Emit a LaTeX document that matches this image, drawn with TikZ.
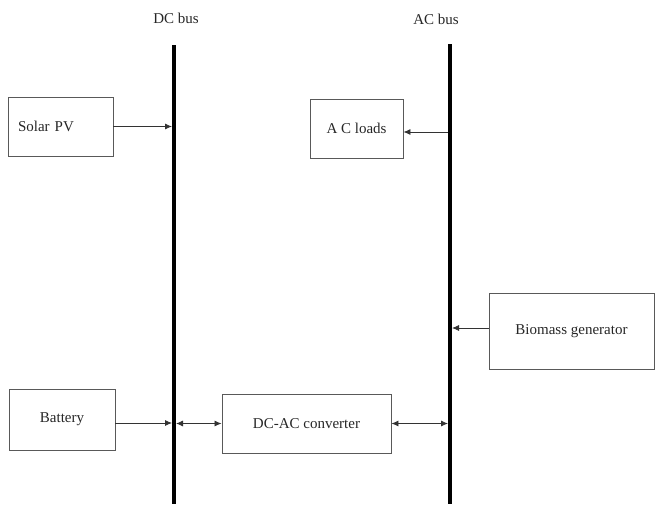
\documentclass[tikz,border=0pt]{standalone}
\usepackage{fontspec}
\setmainfont{Liberation Serif}
\usetikzlibrary{arrows.meta}
\begin{document}
\begin{tikzpicture}[x=1pt,y=-1pt,
  box/.style={draw=black!65,line width=0.9pt,inner sep=0pt,font=\fontsize{15}{16}\selectfont,text=black!85},
  bus/.style={line width=4.5pt,black},
  arr/.style={line width=0.8pt,black!80,-{Latex[length=7pt,width=6pt]}},
  darr/.style={line width=0.8pt,black!80,{Latex[length=7pt,width=6pt]}-{Latex[length=7pt,width=6pt]}},
  lbl/.style={font=\fontsize{15}{16}\selectfont,text=black!85,inner sep=0pt}]
\useasboundingbox (0,0) rectangle (655,504);
% buses
\coordinate (dctop) at (174,45);
\coordinate (dcbot) at (174,504);
\coordinate (actop) at (450,44);
\coordinate (acbot) at (450,504);
\node[lbl] (dclbl) at (176,18) {DC bus};
\node[lbl] (aclbl) at (436,19) {AC bus};
% boxes
\node[box,minimum width=105pt,minimum height=59pt,text width=85pt,align=left,inner xsep=10pt] (solar) at (60.5,126.5) {Solar PV};
\node[box,minimum width=93pt,minimum height=59pt] (acload) at (356.5,128.5) {A C loads};
\node[box,minimum width=106pt,minimum height=61pt] (batt) at (62,419.5) {Battery};
\node[box,minimum width=169pt,minimum height=59pt] (conv) at (306.5,423.5) {DC-AC converter};
\node[box,minimum width=165pt,minimum height=76pt] (bio) at (571.5,331) {Biomass generator};
% connectors
\draw[arr,shorten >=2pt] (solar.east) -- (solar.east -| dctop);
\draw[arr,shorten <=2pt] ([yshift=-3.5pt]acload.east -| actop) -- ([yshift=-3.5pt]acload.east);
\draw[arr,shorten >=2pt] ([yshift=3pt]bio.west) -- ([yshift=3pt]bio.west -| actop);
\draw[arr,shorten >=2pt] ([yshift=-3.5pt]batt.east) -- ([yshift=-3.5pt]batt.east -| dctop);
\draw[darr,shorten <=2pt] (conv.west -| dctop) -- (conv.west);
\draw[darr,shorten >=2pt] (conv.east) -- (conv.east -| actop);
\draw[bus] (dctop) -- (dcbot);
\draw[bus] (actop) -- (acbot);
\end{tikzpicture}
\end{document}
